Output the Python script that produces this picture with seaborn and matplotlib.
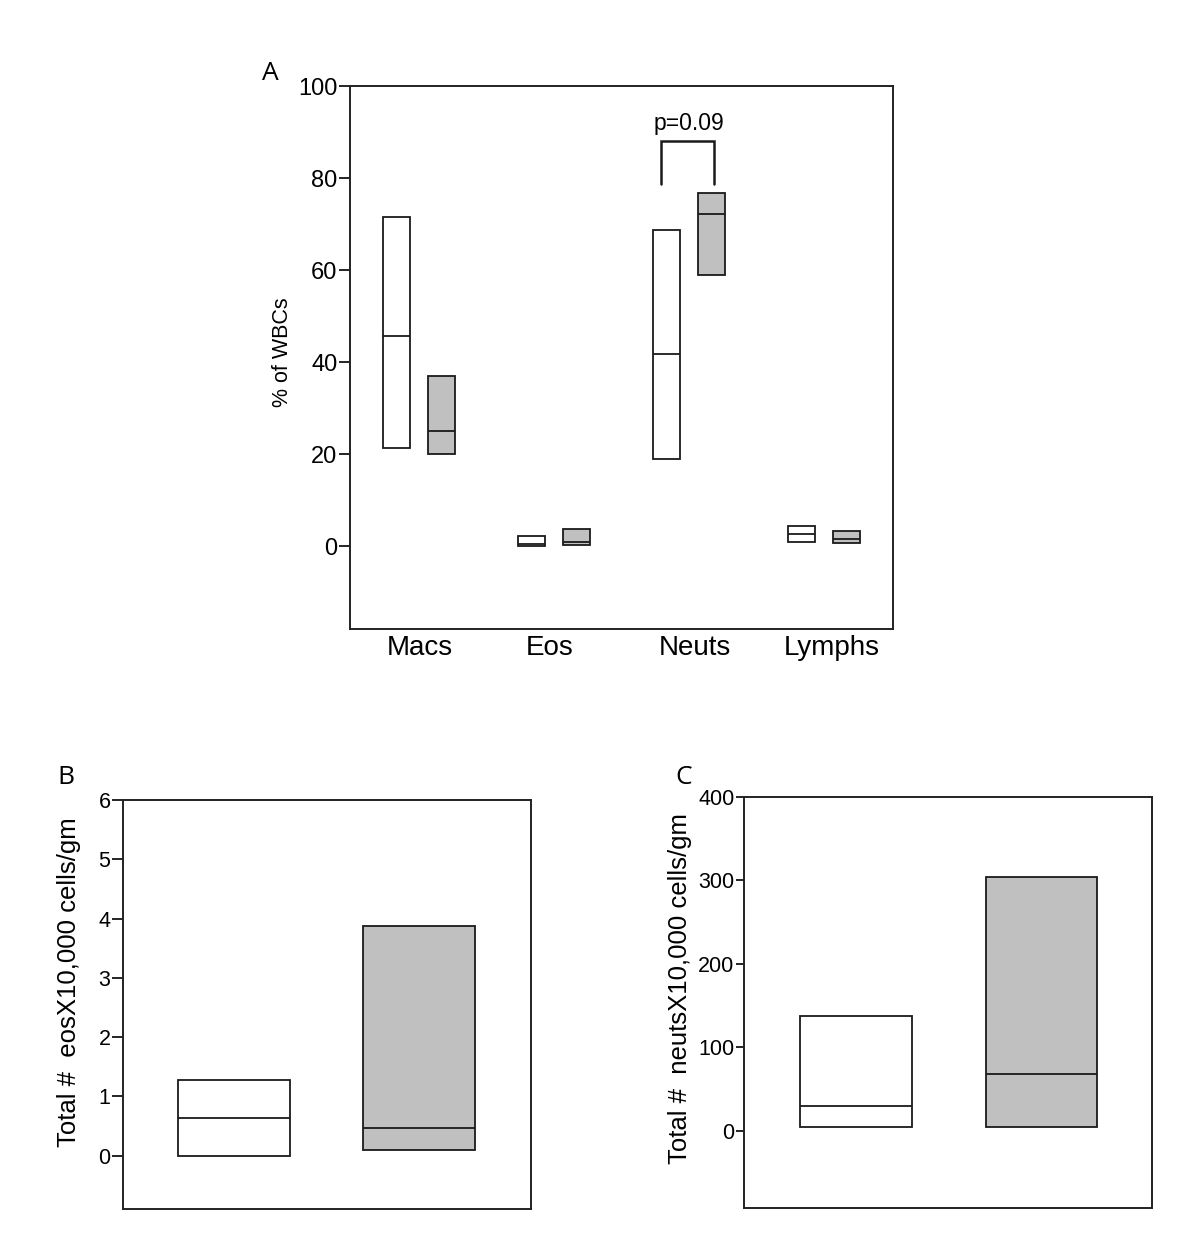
import pandas as pd
import numpy as np
import matplotlib
matplotlib.use("Agg")
import matplotlib.pyplot as plt
import seaborn as sns

# values: each box is low / median / high
cells = ["Macs", "Eos", "Neuts", "Lymphs"]
groups = ["Control", "Treated"]

a_ctrl_low = [21.3, 0.0, 18.9, 0.9]
a_ctrl_med = [45.7, 0.4, 41.7, 2.7]
a_ctrl_high = [71.5, 2.2, 68.7, 4.4]
a_trt_low = [20.0, 0.15, 58.9, 0.6]
a_trt_med = [25.0, 0.8, 72.2, 1.5]
a_trt_high = [37.0, 3.8, 76.7, 3.3]

b_low = [0.0, 0.1]
b_med = [0.64, 0.47]
b_high = [1.28, 3.87]

c_low = [4.0, 4.0]
c_med = [30.0, 68.0]
c_high = [137.0, 304.0]

palette = {"Control": "#ffffff", "Treated": "#c0c0c0"}


def box_rows(lo, med, hi):
    # five points whose quartiles land on low / high and median on med
    return [lo, lo, med, hi, hi]


rows = []
for i, cell in enumerate(cells):
    for v in box_rows(a_ctrl_low[i], a_ctrl_med[i], a_ctrl_high[i]):
        rows.append({"cell": cell, "group": "Control", "value": v})
    for v in box_rows(a_trt_low[i], a_trt_med[i], a_trt_high[i]):
        rows.append({"cell": cell, "group": "Treated", "value": v})
df_a = pd.DataFrame(rows)

rows = []
for i, g in enumerate(groups):
    for v in box_rows(b_low[i], b_med[i], b_high[i]):
        rows.append({"group": g, "value": v})
df_b = pd.DataFrame(rows)

rows = []
for i, g in enumerate(groups):
    for v in box_rows(c_low[i], c_med[i], c_high[i]):
        rows.append({"group": g, "value": v})
df_c = pd.DataFrame(rows)

sns.set_style("white")
plt.rcParams["font.family"] = ["Liberation Sans", "DejaVu Sans"]
plt.rcParams["text.color"] = "black"
plt.rcParams["axes.labelcolor"] = "black"
plt.rcParams["xtick.color"] = "black"
plt.rcParams["ytick.color"] = "black"

fig = plt.figure(figsize=(12, 12.52), dpi=100)
ax_a = fig.add_axes([0.2917, 0.4976, 0.4525, 0.4337])
ax_b = fig.add_axes([0.1025, 0.0343, 0.34, 0.3267])
ax_c = fig.add_axes([0.62, 0.0351, 0.34, 0.3283])

box_kw = dict(whis=0, showcaps=False, showfliers=False, saturation=1,
              linecolor="#1a1a1a", linewidth=1.3, legend=False,
              medianprops=dict(color="#1a1a1a", linewidth=1.3))

# Panel A
sns.boxplot(data=df_a, x="cell", y="value", hue="group", order=cells,
            hue_order=groups, palette=palette, width=2 / 3, gap=0.4,
            ax=ax_a, **box_kw)
ax_a.set_xlim(-0.511, 3.51)
ax_a.set_ylim(-18, 100)
ax_a.set_yticks([0, 20, 40, 60, 80, 100])
# category labels sit a little off the pair centres in the original
label_shift = [0.007, -0.03, 0.044, 0.059]
ax_a.set_xticks([i + s for i, s in enumerate(label_shift)], cells)
ax_a.set_xlabel("")
ax_a.set_ylabel("% of WBCs", fontsize=15.5)
ax_a.yaxis.set_label_coords(-0.105, 0.51)
ax_a.tick_params(axis="y", direction="out", length=8, width=1.2,
                 labelsize=17, pad=1, left=True)
ax_a.tick_params(axis="x", length=0, labelsize=20, pad=4)

# significance bracket
ax_a.plot([1.79, 1.79, 2.185, 2.185], [78.7, 88, 88, 78.7],
          color="#1a1a1a", linewidth=1.8, solid_joinstyle="miter")
ax_a.text(2.0, 90.4, "p=0.09", ha="center", va="baseline", fontsize=16.5)

# Panel B
sns.boxplot(data=df_b, x="group", y="value", hue="group", order=groups,
            palette=palette, width=0.607, ax=ax_b, **box_kw)
ax_b.set_xlim(-0.604, 1.607)
ax_b.set_ylim(-0.9, 6)
ax_b.set_yticks(range(0, 7))
ax_b.set_xticks([])
ax_b.set_xlabel("")
ax_b.set_ylabel("Total #  eosX10,000 cells/gm", fontsize=18.5)
ax_b.yaxis.set_label_coords(-0.103, 0.555)
ax_b.tick_params(axis="y", direction="out", length=8, width=1.2,
                 labelsize=15.5, pad=1, left=True)

# Panel C
sns.boxplot(data=df_c, x="group", y="value", hue="group", order=groups,
            palette=palette, width=0.6, ax=ax_c, **box_kw)
ax_c.set_xlim(-0.604, 1.596)
ax_c.set_ylim(-93, 400)
ax_c.set_yticks([0, 100, 200, 300, 400])
ax_c.set_xticks([])
ax_c.set_xlabel("")
ax_c.set_ylabel("Total #  neutsX10,000 cells/gm", fontsize=18.5)
ax_c.yaxis.set_label_coords(-0.128, 0.533)
ax_c.tick_params(axis="y", direction="out", length=6, width=1.2,
                 labelsize=15.5, pad=1, left=True)

for ax in (ax_a, ax_b, ax_c):
    for sp in ax.spines.values():
        sp.set_visible(True)
        sp.set_color("#222222")
        sp.set_linewidth(1.4)

# panel letters
for lab, x, y in [("A", 270, 73), ("B", 66, 777), ("C", 684, 778)]:
    fig.text(x / 1200, 1 - y / 1252, lab, ha="center", va="center",
             fontsize=19, family=["Open Sans", "DejaVu Sans"])

plt.savefig("out.png", dpi=100)
